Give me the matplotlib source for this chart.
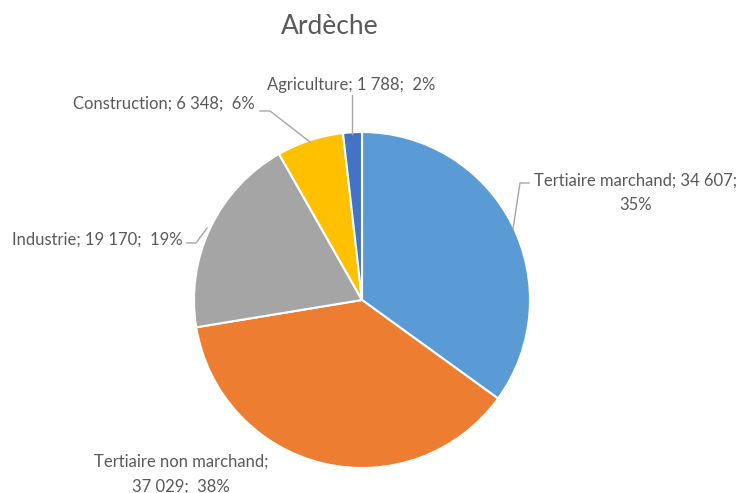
import matplotlib
matplotlib.use("Agg")
import matplotlib.pyplot as plt

categories = ["Tertiaire marchand", "Tertiaire non marchand", "Industrie", "Construction", "Agriculture"]
values = [34607, 37029, 19170, 6348, 1788]
value_labels = ["34 607", "37 029", "19 170", "6 348", "1 788"]
pct_labels = ["35%", "38%", "19%", "6%", "2%"]
colors = ["#5B9BD5", "#ED7D31", "#A5A5A5", "#FFC000", "#4472C4"]
title = "Ardèche"

W, H = 748, 493
plt.rcParams['font.family'] = ['Lato', 'DejaVu Sans']
fig = plt.figure(figsize=(W / 100, H / 100), dpi=100)
ax = fig.add_axes([0, 0, 1, 1])

def Y(y):
    return H - y

cx, cy, r = 362, 300, 168
ax.pie(values, colors=colors, center=(cx, Y(cy)), radius=r, startangle=90,
       counterclock=False,
       wedgeprops=dict(edgecolor="white", linewidth=1.5))
ax.set_xlim(0, W)
ax.set_ylim(0, H)
ax.set_aspect('auto')
ax.axis('off')

tc = "#595959"
fs = 12
ax.text(330, Y(26), title, ha="center", va="center", fontsize=19, color=tc)

# Tertiaire marchand
ax.text(636, Y(193), f"{categories[0]}; {value_labels[0]};\n{pct_labels[0]}",
        ha="center", va="center", fontsize=fs, color=tc, linespacing=1.65)
ax.plot([529, 520, 513], [Y(183), Y(183), Y(229)], color="#A6A6A6", lw=1)

# Tertiaire non marchand
ax.text(181, Y(474), f"{categories[1]};\n{value_labels[1]};  {pct_labels[1]}",
        ha="center", va="center", fontsize=fs, color=tc, linespacing=1.65)

# Industrie
ax.text(97, Y(240), f"{categories[2]}; {value_labels[2]};  {pct_labels[2]}",
        ha="center", va="center", fontsize=fs, color=tc)
ax.plot([187, 196, 207], [Y(243), Y(243), Y(228)], color="#A6A6A6", lw=1)

# Construction
ax.text(164, Y(104), f"{categories[3]}; {value_labels[3]};  {pct_labels[3]}",
        ha="center", va="center", fontsize=fs, color=tc)
ax.plot([260, 270, 310], [Y(111), Y(111), Y(142)], color="#A6A6A6", lw=1)

# Agriculture
ax.text(351, Y(85), f"{categories[4]}; {value_labels[4]};  {pct_labels[4]}",
        ha="center", va="center", fontsize=fs, color=tc)
ax.plot([352, 352], [Y(95), Y(134)], color="#A6A6A6", lw=1)

fig.savefig("out.png", dpi=100)
